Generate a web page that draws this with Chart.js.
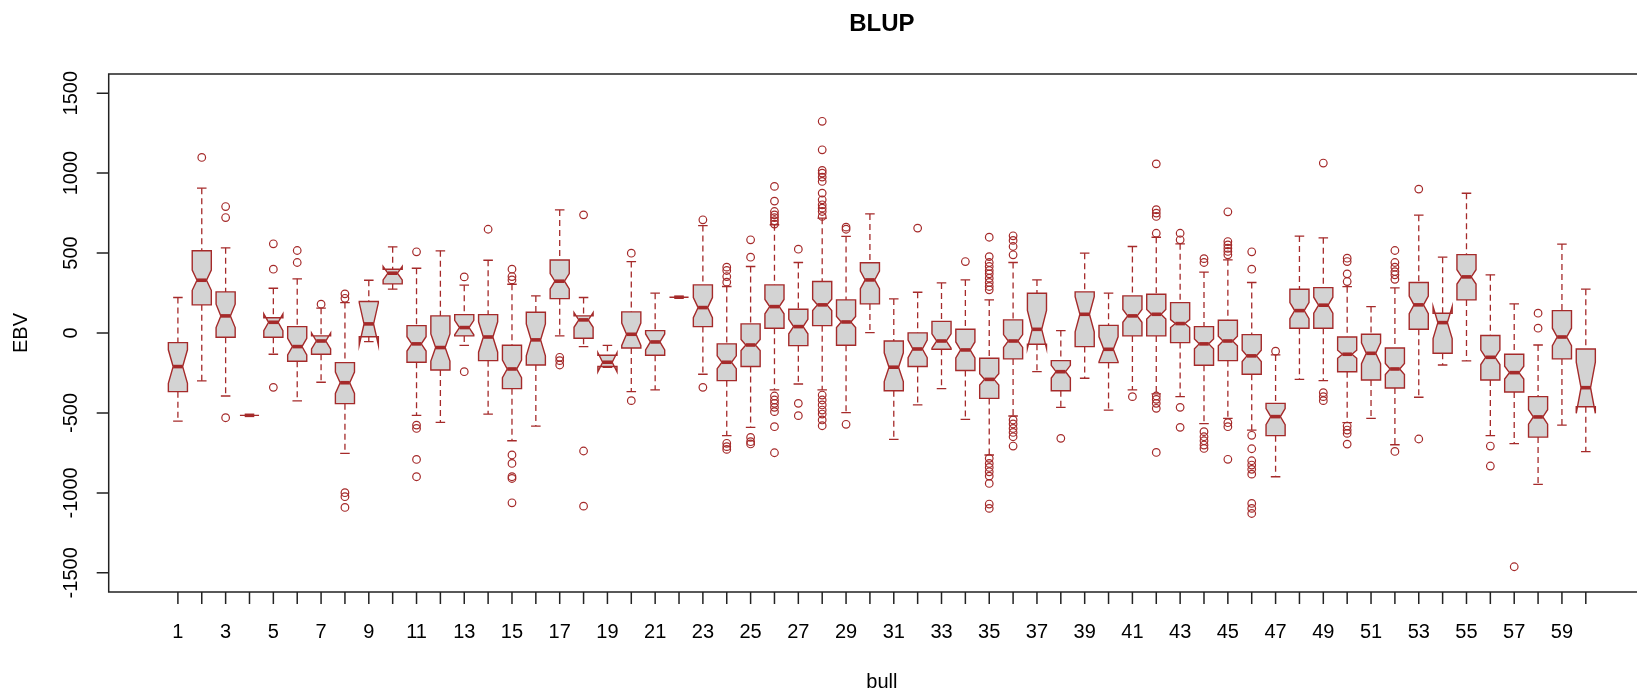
<!DOCTYPE html>
<html>
<head>
<meta charset="utf-8">
<script src="https://cdn.jsdelivr.net/npm/chart.js@4/dist/chart.umd.min.js"></script>
<style>
  html, body { margin: 0; padding: 0; background: #fff; }
  #wrap { width: 1637px; height: 694px; overflow: hidden; }
</style>
</head>
<body>
<div id="wrap"><canvas id="blup" width="1680" height="694"></canvas></div>
<script>
// bulls on the x axis
const bulls = [1, 2, 3, 4, 5, 6, 7, 8, 9, 10, 11, 12, 13, 14, 15, 16, 17, 18, 19, 20,
  21, 22, 23, 24, 25, 26, 27, 28, 29, 30, 31, 32, 33, 34, 35, 36, 37, 38, 39, 40,
  41, 42, 43, 44, 45, 46, 47, 48, 49, 50, 51, 52, 53, 54, 55, 56, 57, 58, 59, 60];

// five-number summaries
const whiskerLow = [-551, -300, -394, -515, -133, -425, -308, -753, -54, 274,
  -515, -559, -77, -507, -674, -582, -18, -85, -215, -367,
  -356, 224, -258, -642, -590, -356, -319, -356, -498, 2,
  -665, -450, -348, -540, -763, -519, -242, -465, -283, -482,
  -356, -381, -398, -567, -534, -607, -899, -290, -298, -561,
  -534, -699, -402, -200, -174, -642, -692, -947, -576, -742];
const lowerQuartile = [-367, 176, -27, -515, -27, -177, -133, -442, -23, 307,
  -183, -231, -18, -173, -348, -200, 215, -33, -210, -94,
  -139, 224, 40, -298, -210, 30, -79, 46, -77, 182,
  -361, -210, -102, -235, -409, -162, -70, -361, -85, -185,
  -18, -18, -60, -202, -173, -258, -642, 30, 30, -242,
  -294, -344, 23, -127, 207, -294, -369, -651, -162, -461];
const medians = [-210, 330, 107, -515, 67, -85, -50, -311, 57, 374,
  -68, -91, 34, -25, -225, -43, 324, 82, -183, -8,
  -56, 224, 159, -183, -75, 165, 40, 176, 69, 332,
  -214, -100, -50, -106, -290, -50, 23, -242, 117, -102,
  107, 117, 59, -68, -50, -143, -523, 140, 174, -133,
  -127, -225, 176, 65, 351, -152, -248, -525, -25, -342];
const upperQuartile = [-60, 514, 257, -515, 95, 40, -18, -185, 197, 399,
  46, 107, 115, 115, -77, 130, 457, 107, -139, 132,
  15, 224, 301, -68, 57, 301, 149, 322, 207, 439,
  -50, 1, 73, 23, -158, 82, 249, -173, 257, 48,
  232, 242, 190, 40, 80, -10, -440, 274, 284, -25,
  -8, -94, 316, 124, 490, -16, -133, -398, 140, -100];
const whiskerHigh = [222, 906, 533, -515, 280, 339, 155, 190, 330, 539,
  405, 514, 299, 455, 305, 232, 770, 222, -77, 447,
  249, 224, 672, 291, 416, 677, 441, 718, 604, 745,
  213, 255, 313, 332, 207, 441, 332, 15, 499, 249,
  541, 599, 558, 381, 458, 316, -137, 606, 595, 290,
  165, 282, 737, 474, 874, 364, 182, -75, 556, 274];
// half height of each notch (median +/- this)
const notchHalf = [105, 63, 73, 0, 52, 52, 50, 67, 132, 42,
  45, 85, 45, 95, 55, 100, 48, 46, 60, 70,
  50, 0, 63, 40, 35, 45, 45, 35, 35, 55,
  90, 55, 45, 50, 35, 40, 119, 40, 110, 78,
  40, 30, 25, 30, 30, 35, 50, 50, 50, 25,
  65, 35, 55, 100, 45, 45, 40, 45, 55, 160];
// outlying values per bull
const outliers = [
  [], [1098], [791, 722, -530], [], [558, 399, -340],
  [516, 441], [180], [245, 217, -999, -1024, -1091], [], [],
  [508, -576, -597, -791, -899], [], [351, -242], [649],
  [399, 353, 332, -763, -816, -899, -910, -1062],
  [], [-152, -173, -200], [739, -738, -1083], [], [499, -423],
  [], [], [708, -340], [412, 391, 353, 318, -690, -711, -728],
  [583, 474, -653, -680, -694],
  [917, 825, 760, 739, 722, 702, 681, -394, -419, -440, -465, -492, -586, -749],
  [524, -440, -517],
  [1324, 1146, 1017, 1000, 975, 948, 875, 833, 802, 781, 760, 729, -388, -419, -450, -482, -507, -544, -580],
  [662, 649, -571], [], [], [656], [], [447],
  [599, 478, 441, 416, 391, 370, 343, 316, 291, 270, -784, -816, -841, -868, -895, -941, -1070, -1097],
  [608, 579, 541, 489, -544, -569, -597, -622, -649, -707],
  [], [-659], [], [], [-398],
  [1058, 771, 750, 729, 624, -394, -415, -440, -471, -747],
  [624, 583, -465, -590],
  [465, 441, -617, -649, -674, -701, -722],
  [758, 572, 551, 530, 510, 489, -561, -586, -790],
  [508, 399, -640, -724, -799, -826, -853, -883, -1066, -1097, -1129],
  [-114], [], [1063, -373, -398, -423],
  [468, 447, 370, 322, -582, -607, -628, -695],
  [], [516, 441, 412, 384, 364, 336, -741], [900, -663], [], [],
  [-707, -832], [-1462], [124, 30], [], []
];

const yTicks = [-1500, -1000, -500, 0, 500, 1000, 1500];
const xTickLabels = [1, 3, 5, 7, 9, 11, 13, 15, 17, 19, 21, 23, 25, 27, 29,
  31, 33, 35, 37, 39, 41, 43, 45, 47, 49, 51, 53, 55, 57, 59];

const BROWN = "#A52A2A";
const FILL = "#D3D3D3";
const AXIS = "#222";
const FONT = '"Liberation Sans", Arial, sans-serif';
const BOX_HALF = 0.4;

const outlierPoints = [];
outliers.forEach((list, i) => {
  list.forEach((v) => outlierPoints.push({ x: bulls[i], y: v }));
});

const boxPlugin = {
  id: "notchedBoxes",
  beforeDatasetsDraw(chart) {
    const ctx = chart.ctx;
    const xs = chart.scales.x;
    const ys = chart.scales.y;
    ctx.save();

    bulls.forEach((b, i) => {
      const xl = xs.getPixelForValue(b - BOX_HALF);
      const xr = xs.getPixelForValue(b + BOX_HALF);
      const xml = xs.getPixelForValue(b - BOX_HALF / 2);
      const xmr = xs.getPixelForValue(b + BOX_HALF / 2);
      const xc = xs.getPixelForValue(b);
      const yq1 = ys.getPixelForValue(lowerQuartile[i]);
      const yq3 = ys.getPixelForValue(upperQuartile[i]);
      const ymed = ys.getPixelForValue(medians[i]);
      const ynlo = ys.getPixelForValue(medians[i] - notchHalf[i]);
      const ynhi = ys.getPixelForValue(medians[i] + notchHalf[i]);
      const ywl = ys.getPixelForValue(whiskerLow[i]);
      const ywh = ys.getPixelForValue(whiskerHigh[i]);

      // whiskers
      ctx.strokeStyle = BROWN;
      ctx.lineWidth = 1.3;
      ctx.setLineDash([6, 4]);
      ctx.beginPath();
      ctx.moveTo(xc, ywh);
      ctx.lineTo(xc, yq3);
      ctx.moveTo(xc, yq1);
      ctx.lineTo(xc, ywl);
      ctx.stroke();
      ctx.setLineDash([]);

      // staples
      ctx.beginPath();
      ctx.moveTo(xml, ywh);
      ctx.lineTo(xmr, ywh);
      ctx.moveTo(xml, ywl);
      ctx.lineTo(xmr, ywl);
      ctx.stroke();

      // notched box
      ctx.beginPath();
      ctx.moveTo(xl, yq1);
      ctx.lineTo(xl, ynlo);
      ctx.lineTo(xml, ymed);
      ctx.lineTo(xl, ynhi);
      ctx.lineTo(xl, yq3);
      ctx.lineTo(xr, yq3);
      ctx.lineTo(xr, ynhi);
      ctx.lineTo(xmr, ymed);
      ctx.lineTo(xr, ynlo);
      ctx.lineTo(xr, yq1);
      ctx.closePath();
      ctx.fillStyle = FILL;
      ctx.fill();
      ctx.lineWidth = 1.4;
      ctx.stroke();

      // median
      ctx.lineWidth = 3.6;
      ctx.beginPath();
      ctx.moveTo(xml, ymed);
      ctx.lineTo(xmr, ymed);
      ctx.stroke();
    });
    ctx.restore();
  },
  afterDraw(chart) {
    const ctx = chart.ctx;
    const xs = chart.scales.x;
    const ys = chart.scales.y;
    const area = chart.chartArea;
    ctx.save();

    // frame
    ctx.strokeStyle = AXIS;
    ctx.lineWidth = 1.5;
    ctx.strokeRect(area.left, area.top, area.right - area.left, area.bottom - area.top);

    // x ticks
    ctx.beginPath();
    bulls.forEach((b) => {
      const px = xs.getPixelForValue(b);
      ctx.moveTo(px, area.bottom);
      ctx.lineTo(px, area.bottom + 12);
    });
    // y ticks
    yTicks.forEach((t) => {
      const py = ys.getPixelForValue(t);
      ctx.moveTo(area.left, py);
      ctx.lineTo(area.left - 12, py);
    });
    ctx.stroke();

    ctx.fillStyle = "#000";
    ctx.font = `20px ${FONT}`;
    ctx.textAlign = "center";
    ctx.textBaseline = "middle";
    xTickLabels.forEach((b) => {
      ctx.fillText(String(b), xs.getPixelForValue(b), 632);
    });
    yTicks.forEach((t) => {
      ctx.save();
      ctx.translate(71, ys.getPixelForValue(t));
      ctx.rotate(-Math.PI / 2);
      ctx.fillText(String(t), 0, 0);
      ctx.restore();
    });

    // axis titles
    const midX = (area.left + area.right) / 2;
    const midY = (area.top + area.bottom) / 2;
    ctx.fillText("bull", midX, 682);
    ctx.save();
    ctx.translate(21, midY);
    ctx.rotate(-Math.PI / 2);
    ctx.fillText("EBV", 0, 0);
    ctx.restore();

    // main title
    ctx.font = `bold 24px ${FONT}`;
    ctx.fillText("BLUP", midX, 24);
    ctx.restore();
  },
};

new Chart(document.getElementById("blup").getContext("2d"), {
  type: "scatter",
  data: {
    datasets: [
      {
        data: outlierPoints,
        pointStyle: "circle",
        pointRadius: 3.8,
        borderWidth: 1.2,
        borderColor: BROWN,
        backgroundColor: "rgba(0, 0, 0, 0)",
      },
    ],
  },
  options: {
    responsive: false,
    animation: false,
    devicePixelRatio: 1,
    events: [],
    layout: { padding: { left: 108.7, top: 74, right: 25, bottom: 102 } },
    scales: {
      x: { type: "linear", display: false, min: -1.9, max: 62.9 },
      y: { type: "linear", display: false, min: -1620, max: 1620 },
    },
    plugins: {
      legend: { display: false },
      tooltip: { enabled: false },
    },
  },
  plugins: [boxPlugin],
});
</script>
</body>
</html>
